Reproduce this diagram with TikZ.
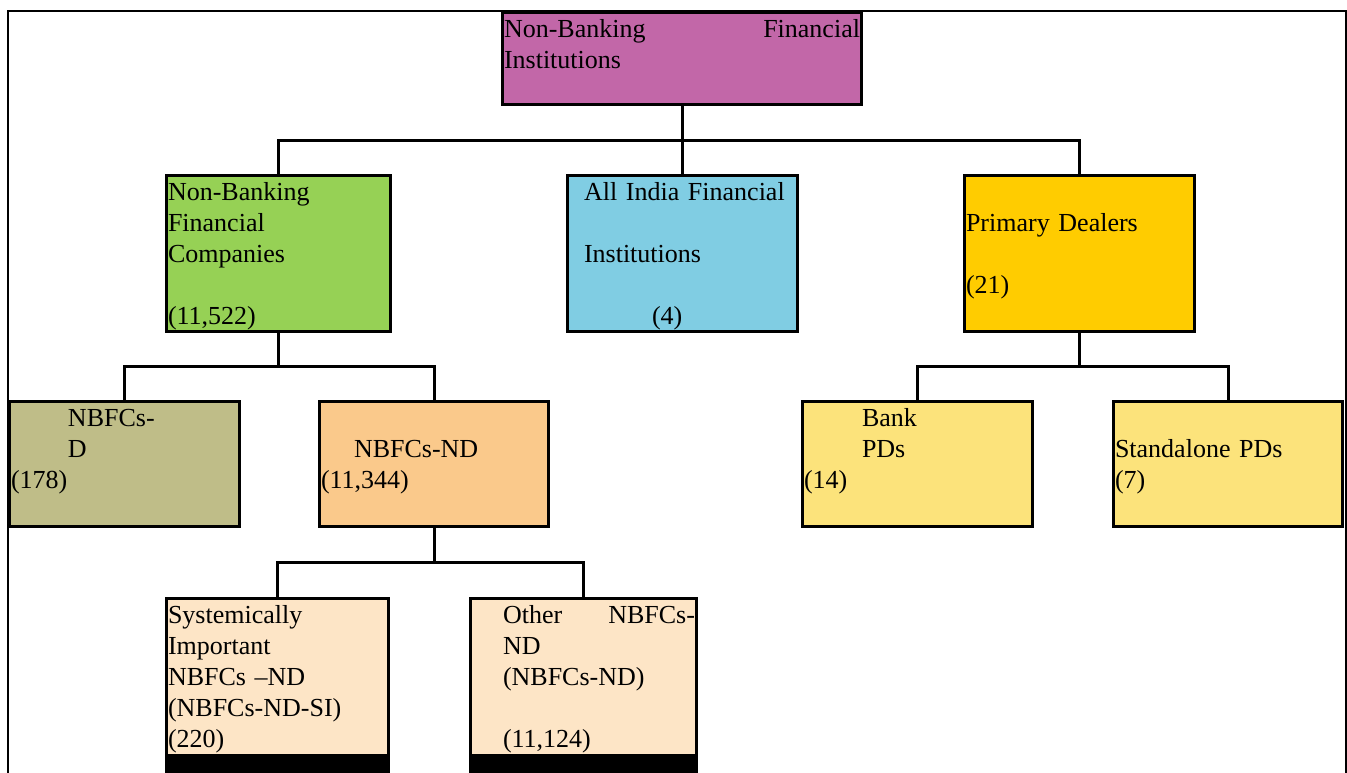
\documentclass[tikz,border=0pt]{standalone}
\usepackage{fontspec}
\setmainfont{Liberation Serif}
\usepackage{tikz}
\usetikzlibrary{positioning}

\definecolor{nbfipurple}{HTML}{C267A8}
\definecolor{nbfcgreen}{HTML}{96D155}
\definecolor{aifiblue}{HTML}{80CDE3}
\definecolor{pdgold}{HTML}{FFCC00}
\definecolor{nbfcdolive}{HTML}{BFBD88}
\definecolor{ndorange}{HTML}{FAC98B}
\definecolor{pdyellow}{HTML}{FCE37B}
\definecolor{sipeach}{HTML}{FDE5C6}

\begin{document}
\begin{tikzpicture}[
    x=1pt, y=-1pt,
    every node/.style={font=\fontsize{26}{31}\selectfont},
    box/.style={draw, line width=3pt, anchor=north west, inner xsep=1.5pt,
                inner ysep=0pt, align=left, text height=25pt},
    conn/.style={line width=3pt},
]
\clip (0,0) rectangle (1347,773);
\draw[line width=2pt] (8,11) rectangle (1346,790);

% Boxes
\node[box, fill=nbfipurple, text width=356pt, text depth=67pt] (nbfi) at (501,11)
    {Non-Banking\hfill Financial\\Institutions};
\node[box, fill=nbfcgreen, text width=221pt, text depth=131pt] (nbfc) at (165,174)
    {Non-Banking\\Financial\\Companies\\\mbox{}\\(11,522)};
\node[box, fill=aifiblue, text width=227pt, text depth=131pt] (aifi) at (566,174)
    {\hspace*{15pt}All India Financial\\\mbox{}\\\hspace*{15pt}Institutions\\\mbox{}\\\hspace*{83pt}(4)};
\node[box, fill=pdgold, text width=227pt, text depth=131pt] (pd) at (963,174)
    {\mbox{}\\Primary Dealers\\\mbox{}\\(21)};
\node[box, fill=nbfcdolive, text width=227pt, text depth=100pt] (nbfcd) at (8,400)
    {\hspace*{57pt}NBFCs-\\\hspace*{57pt}D\\(178)};
\node[box, fill=ndorange, text width=226pt, text depth=100pt] (nbfcnd) at (318,400)
    {\mbox{}\\\hspace*{33pt}NBFCs-ND\\(11,344)};
\node[box, fill=pdyellow, text width=227pt, text depth=100pt] (bankpd) at (801,400)
    {\hspace*{58pt}Bank\\\hspace*{58pt}PDs\\(14)};
\node[box, fill=pdyellow, text width=226pt, text depth=100pt] (standpd) at (1112,400)
    {\mbox{}\\Standalone PDs\\(7)};
\node[box, fill=sipeach, text width=219pt, text depth=156pt] (si) at (165,597)
    {Systemically\\Important\\NBFCs --ND\\(NBFCs-ND-SI)\\(220)};
\node[box, fill=sipeach, text width=223pt, text depth=156pt] (other) at (469,597)
    {\hspace*{31pt}Other\hfill NBFCs-\\\hspace*{31pt}ND\\\hspace*{31pt}(NBFCs-ND)\\\mbox{}\\\hspace*{31pt}(11,124)};
\fill (si.south west) ++(0,-27) rectangle (si.south east);
\fill (other.south west) ++(0,-27) rectangle (other.south east);

% Connectors
\coordinate (bus1) at (680,141);
\coordinate (bus2) at (283,366);
\coordinate (bus3) at (1077,366);
\coordinate (bus4) at (437,562);
\draw[conn] (nbfi.south) -- (nbfi.south |- bus1);
\draw[conn] (nbfc.north) |- (bus1) -| (pd.north);
\draw[conn] (aifi.north) -- (aifi.north |- bus1);
\draw[conn] (nbfc.south) -- (nbfc.south |- bus2);
\draw[conn] (nbfcd.north) |- (bus2) -| (nbfcnd.north);
\draw[conn] (pd.south) -- (pd.south |- bus3);
\draw[conn] (bankpd.north) |- (bus3) -| (standpd.north);
\draw[conn] (nbfcnd.south) -- (nbfcnd.south |- bus4);
\draw[conn] (si.north) |- (bus4) -| (other.north);
\end{tikzpicture}
\end{document}
